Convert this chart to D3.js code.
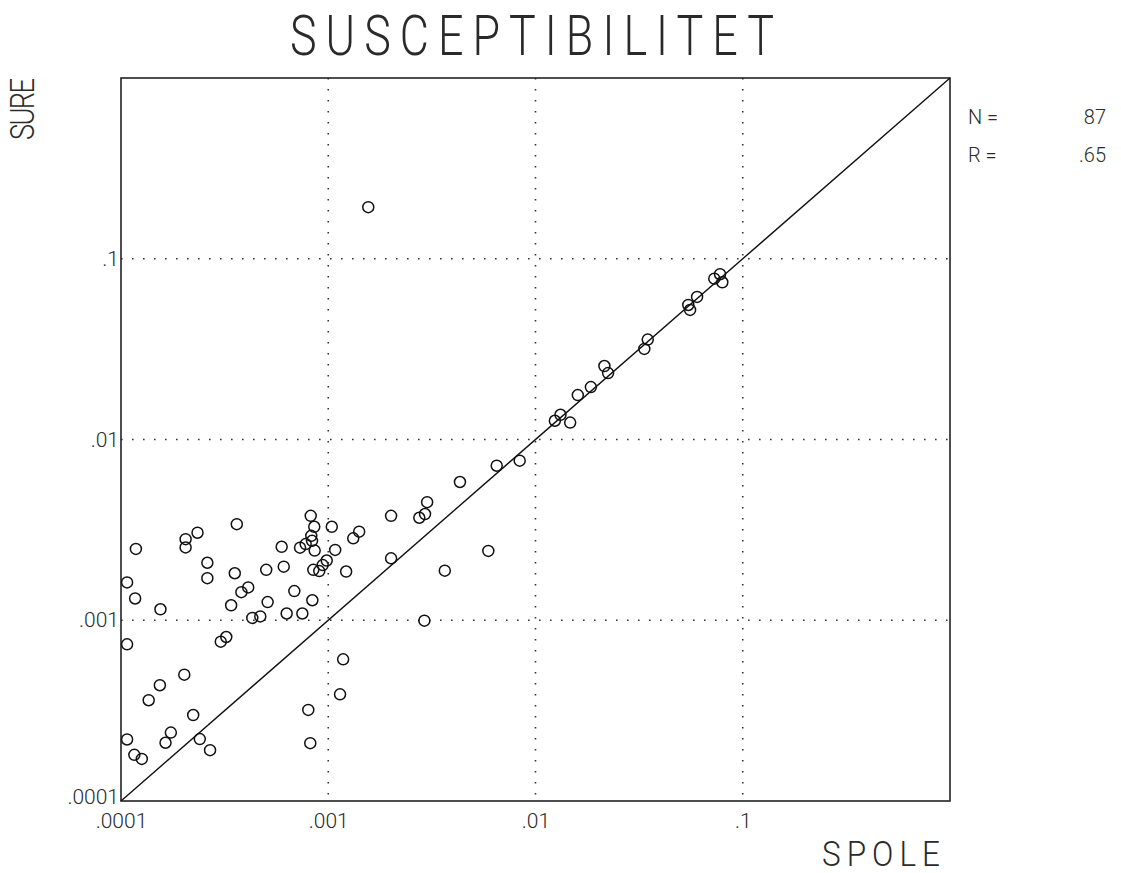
<!DOCTYPE html>
<html>
<head>
<meta charset="utf-8">
<script src="https://cdn.jsdelivr.net/npm/d3@7"></script>
<style>
  html, body { margin: 0; padding: 0; background: #fff; }
  svg { display: block; }
  .plotter { font-family: Roboto, "Noto Sans", "DejaVu Sans", sans-serif; font-weight: 300; fill: #2a2a2a; }
</style>
</head>
<body>
<svg id="chart" width="1121" height="873"></svg>
<script>
// Magnetic susceptibility: coil (SPOLE) vs. reference (SURE) measurements
const spole = [
  1.18e-4, 1.07e-4, 1.17e-4, 1.55e-4, 1.07e-4, 2.05e-4, 2.05e-4, 2.34e-4, 3.62e-4, 2.61e-4,
  2.61e-4, 3.54e-4, 4.11e-4, 3.81e-4, 3.40e-4, 4.30e-4, 4.70e-4, 3.03e-4, 3.22e-4, 5.02e-4,
  5.10e-4, 5.96e-4, 6.10e-4, 6.86e-4, 6.30e-4, 7.50e-4, 7.31e-4, 7.78e-4, 8.23e-4, 8.56e-4,
  8.28e-4, 8.35e-4, 8.60e-4, 8.47e-4, 9.05e-4, 9.40e-4, 9.83e-4, 8.38e-4, 1.04e-3, 1.08e-3,
  1.22e-3, 1.18e-3, 1.32e-3, 1.41e-3, 2.01e-3, 2.01e-3, 2.75e-3, 2.93e-3, 3.00e-3, 4.32e-3,
  3.65e-3, 5.92e-3, 2.91e-3, 2.02e-4, 1.54e-4, 1.36e-4, 2.23e-4, 1.74e-4, 1.64e-4, 1.07e-4,
  1.16e-4, 1.26e-4, 2.40e-4, 2.69e-4, 8.01e-4, 8.19e-4, 1.14e-3, 6.50e-3, 8.39e-3, 1.24e-2,
  1.32e-2, 1.47e-2, 1.60e-2, 1.85e-2, 2.15e-2, 2.24e-2, 3.35e-2, 3.48e-2, 5.46e-2, 5.57e-2,
  6.02e-2, 7.29e-2, 7.77e-2, 7.97e-2, 1.56e-3
];
const sure = [
  2.48e-3, 1.62e-3, 1.32e-3, 1.15e-3, 7.36e-4, 2.81e-3, 2.53e-3, 3.05e-3, 3.40e-3, 2.08e-3,
  1.71e-3, 1.82e-3, 1.52e-3, 1.43e-3, 1.21e-3, 1.03e-3, 1.05e-3, 7.61e-4, 8.08e-4, 1.90e-3,
  1.26e-3, 2.55e-3, 1.98e-3, 1.45e-3, 1.09e-3, 1.09e-3, 2.52e-3, 2.64e-3, 3.78e-3, 3.29e-3,
  2.93e-3, 2.75e-3, 2.43e-3, 1.90e-3, 1.87e-3, 2.02e-3, 2.14e-3, 1.29e-3, 3.29e-3, 2.45e-3,
  1.86e-3, 6.08e-4, 2.84e-3, 3.09e-3, 3.78e-3, 2.20e-3, 3.69e-3, 3.87e-3, 4.50e-3, 5.82e-3,
  1.88e-3, 2.42e-3, 9.95e-4, 5.00e-4, 4.37e-4, 3.61e-4, 2.99e-4, 2.39e-4, 2.10e-4, 2.19e-4,
  1.80e-4, 1.71e-4, 2.20e-4, 1.91e-4, 3.19e-4, 2.09e-4, 3.89e-4, 7.16e-3, 7.64e-3, 1.27e-2,
  1.37e-2, 1.24e-2, 1.76e-2, 1.95e-2, 2.55e-2, 2.33e-2, 3.17e-2, 3.57e-2, 5.55e-2, 5.21e-2,
  6.15e-2, 7.76e-2, 8.21e-2, 7.41e-2, 1.93e-1
];
const tickValues = [1e-4, 1e-3, 1e-2, 1e-1];
const tickLabels = [".0001", ".001", ".01", ".1"];
const gridValues = [1e-3, 1e-2, 1e-1];
const domain = [1e-4, 1];
const stats = [["N =", "87"], ["R =", ".65"]];
const title = "SUSCEPTIBILITET";
const xTitle = "SPOLE";
const yTitle = "SURE";

const svg = d3.select("#chart");
const plotL = 121, plotR = 950, plotT = 78, plotB = 801;

const x = d3.scaleLog().domain(domain).range([plotL, plotR]);
const y = d3.scaleLog().domain(domain).range([plotB, plotT]);

// dotted grid
const dots = "1.6,9.4";
svg.append("g")
  .selectAll("line").data(gridValues).join("line")
  .attr("x1", d => x(d)).attr("x2", d => x(d))
  .attr("y1", plotT).attr("y2", plotB)
  .attr("stroke", "#333").attr("stroke-width", 1.6).attr("stroke-dasharray", dots);
svg.append("g")
  .selectAll("line").data(gridValues).join("line")
  .attr("y1", d => y(d)).attr("y2", d => y(d))
  .attr("x1", plotL).attr("x2", plotR)
  .attr("stroke", "#333").attr("stroke-width", 1.6).attr("stroke-dasharray", dots);

// frame
svg.append("rect")
  .attr("x", plotL).attr("y", plotT)
  .attr("width", plotR - plotL).attr("height", plotB - plotT)
  .attr("fill", "none").attr("stroke", "#222").attr("stroke-width", 1.6);

// 1:1 line
svg.append("line")
  .attr("x1", x(domain[0])).attr("y1", y(domain[0]))
  .attr("x2", x(domain[1])).attr("y2", y(domain[1]))
  .attr("stroke", "#111").attr("stroke-width", 1.4);

// axes (labels only)
const labelOf = d => tickLabels[tickValues.indexOf(d)];
const xAxis = svg.append("g").attr("transform", `translate(0,${plotB})`)
  .call(d3.axisBottom(x).tickValues(tickValues).tickFormat(labelOf).tickSize(0).tickPadding(12));
const yAxis = svg.append("g").attr("transform", `translate(${plotL},0)`)
  .call(d3.axisLeft(y).tickValues(tickValues).tickFormat(labelOf).tickSize(0).tickPadding(2));
[xAxis, yAxis].forEach(g => {
  g.select(".domain").remove();
  g.selectAll("text").attr("class", "plotter").style("font-size", "21px").attr("fill", "#2a2a2a");
});
// lowest y label sits just above the corner
yAxis.selectAll(".tick").filter(d => d === domain[0])
  .select("text").attr("dy", "0.1em");

// points
svg.append("g")
  .selectAll("circle").data(spole.map((s, i) => [s, sure[i]])).join("circle")
  .attr("cx", d => x(d[0])).attr("cy", d => y(d[1])).attr("r", 5.5)
  .attr("fill", "none").attr("stroke", "#111").attr("stroke-width", 1.5);

// narrow plotter-style text: horizontally condensed, spread to a given width
function plotterText(parent, str, cx, cy, size, width, sx, angle) {
  parent.append("text").attr("class", "plotter")
    .attr("transform", `translate(${cx},${cy}) rotate(${angle || 0}) scale(${sx},1)`)
    .attr("text-anchor", "middle")
    .attr("textLength", width / sx).attr("lengthAdjust", "spacing")
    .style("font-size", size + "px").text(str);
}
plotterText(svg, title, 532, 55, 56, 484, 0.8);
plotterText(svg, xTitle, 881, 866, 35, 118, 0.9);
plotterText(svg, yTitle, 34, 109, 34, 62, 0.8, -90);

// sample statistics
const st = svg.append("g");
stats.forEach((s, i) => {
  st.append("text").attr("class", "plotter")
    .attr("x", 968).attr("y", 124 + i * 38)
    .style("font-size", "20px").text(s[0]);
  st.append("text").attr("class", "plotter")
    .attr("x", 1106).attr("y", 124 + i * 38).attr("text-anchor", "end")
    .style("font-size", "20px").text(s[1]);
});
</script>
</body>
</html>
